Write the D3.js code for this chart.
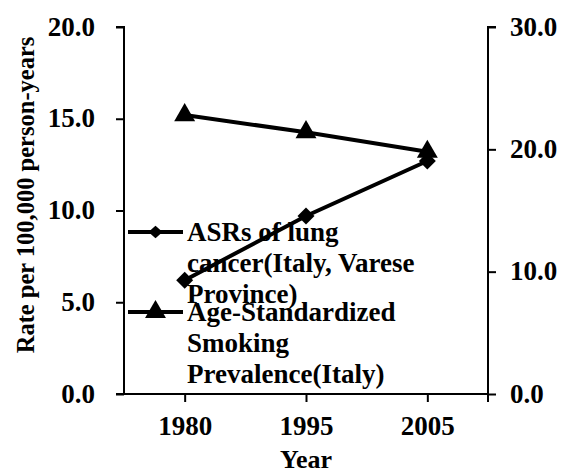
<!DOCTYPE html>
<html><head><meta charset="utf-8">
<script src="https://cdn.jsdelivr.net/npm/d3@7"></script>
<style>
body{margin:0;background:#fff;}
svg text{font-family:"Liberation Serif","Times New Roman",serif;font-weight:700;fill:#000;}
</style></head>
<body><svg id="c" width="563" height="473"></svg>
<script>
const years = ["1980","1995","2005"];
const asrLung = [6.2, 9.7, 12.7];
const smokingPrev = [22.8, 21.4, 19.8];
const leftTicks = [0,5,10,15,20];
const rightTicks = [0,10,20,30];
const legendLabels = [["ASRs of lung","cancer(Italy, Varese","Province)"],["Age-Standardized","Smoking","Prevalence(Italy)"]];

const svg = d3.select("#c");
const L = 124, R = 488, T = 27, B = 394;
const x = d3.scalePoint().domain(years).range([L,R]).padding(0.5);
const yL = d3.scaleLinear().domain([0,20]).range([B,T]);
const yR = d3.scaleLinear().domain([0,30]).range([B,T]);
const bold = s => s.attr("font-weight","bold").style("font-weight","700")
  .attr("font-family","Liberation Serif, Times New Roman, serif");

// left axis
const ga = svg.append("g").attr("transform",`translate(${L},0)`)
  .call(d3.axisLeft(yL).tickValues(leftTicks).tickSize(8).tickPadding(21).tickFormat(d3.format(".1f")));
ga.select(".domain").attr("stroke-width",2).attr("d",`M-8,${T}H0V${B}`);
ga.selectAll(".tick line").attr("stroke-width",2);
ga.selectAll(".tick text").call(bold).style("font-size","27px").attr("dy","0.3em");

// right axis
const gr = svg.append("g").attr("transform",`translate(${R},0)`)
  .call(d3.axisRight(yR).tickValues(rightTicks).tickSize(8).tickPadding(14).tickFormat(d3.format(".1f")));
gr.select(".domain").attr("stroke-width",2).attr("d",`M8,${T}H0V${B}`);
gr.selectAll(".tick line").attr("stroke-width",2);
gr.selectAll(".tick text").call(bold).style("font-size","27px").attr("dy","0.3em");

// bottom axis
const gb = svg.append("g").attr("transform",`translate(0,${B})`)
  .call(d3.axisBottom(x).tickSize(8).tickPadding(14));
gb.select(".domain").attr("stroke-width",2).attr("d",`M${L-8},0H${R}`);
gb.selectAll(".tick line").attr("stroke-width",2);
gb.selectAll(".tick text").call(bold).style("font-size","27px").attr("y",41).attr("dy","0");
gb.append("line").attr("x1",R).attr("x2",R).attr("y1",0).attr("y2",8).attr("stroke","#000").attr("stroke-width",2);

// titles
svg.append("text").call(bold).attr("transform","translate(34,195) rotate(-90)").attr("text-anchor","middle")
  .style("font-size","24.5px").text("Rate per 100,000 person-years");
svg.append("text").call(bold).attr("x",306).attr("y",468).attr("text-anchor","middle").style("font-size","26px").text("Year");

// lines
const diamond = d3.symbol().type(d3.symbolSquare).size(144);
const tri = d3.symbol().type(d3.symbolTriangle).size(190);

svg.append("path").datum(smokingPrev)
  .attr("d", d3.line().x((d,i)=>x(years[i])).y(d=>yR(d)))
  .attr("fill","none").attr("stroke","#000").attr("stroke-width",4);
svg.append("path").datum(asrLung)
  .attr("d", d3.line().x((d,i)=>x(years[i])).y(d=>yL(d)))
  .attr("fill","none").attr("stroke","#000").attr("stroke-width",4);

svg.selectAll(".tri").data(smokingPrev).join("path").attr("class","tri")
  .attr("transform",(d,i)=>`translate(${x(years[i])},${yR(d)})`).attr("d",tri).attr("fill","#000");
svg.selectAll(".dia").data(asrLung).join("path").attr("class","dia")
  .attr("transform",(d,i)=>`translate(${x(years[i])},${yL(d)}) rotate(45)`).attr("d",diamond).attr("fill","#000");

// legend
const legY = [232, 312];
const lg = svg.append("g");
legendLabels.forEach((lines,k)=>{
  const g = lg.append("g").attr("transform",`translate(0,${legY[k]})`);
  g.append("line").attr("x1",128).attr("x2",183).attr("y1",0).attr("y2",0).attr("stroke","#000").attr("stroke-width",4);
  g.append("path").attr("transform", k===0 ? "translate(155.5,0) scale(1,0.9) rotate(45)" : "translate(155.5,0)")
    .attr("d", k===0 ? d3.symbol().type(d3.symbolSquare).size(100) : tri).attr("fill","#000");
  lines.forEach((t,j)=>{
    g.append("text").call(bold).attr("x",187).attr("y",j*31).attr("dy","0.32em").style("font-size","27px").text(t);
  });
});
</script></body></html>
